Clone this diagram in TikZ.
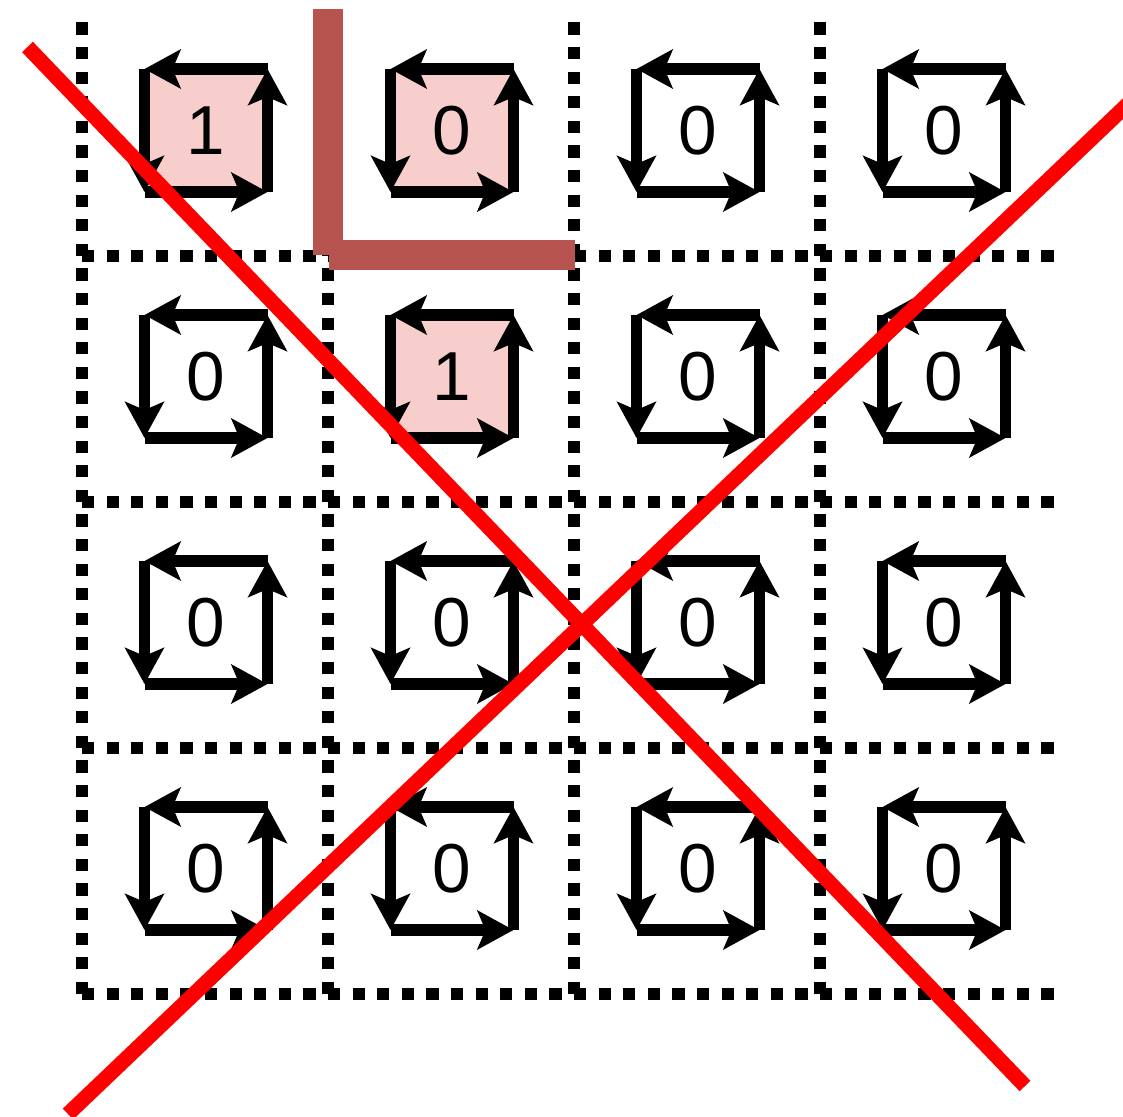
\documentclass[tikz,border=0pt]{standalone}
\usepackage{fontspec}
\setmainfont{Liberation Sans}
\usetikzlibrary{arrows.meta}
\definecolor{pinkfill}{HTML}{F8CECC}
\definecolor{lbrown}{HTML}{B85450}
\begin{document}
\begin{tikzpicture}[x=0.75pt,y=-0.75pt,
  gridline/.style={line width=9.2pt, dash pattern=on 9.2pt off 9.25pt},
  cellbox/.style={minimum size=92.25pt, inner sep=0pt, outer sep=0pt, font=\fontsize{52}{60}\selectfont},
  pinkcell/.style={cellbox, fill=pinkfill},
  cyc/.style={line width=8.5pt, -{Stealth[length=27pt,width=29pt,inset=6pt]}},
  cross/.style={red, line width=11.25pt},
  lmark/.style={lbrown, line width=22.5pt}]
\useasboundingbox (0,0) rectangle (1123,1116);
% dotted grid
\foreach \x in {82,328,574,820} \draw[gridline] (\x,994) -- (\x,21);
\foreach \y in {256,502,748,994} \draw[gridline] (82,\y) -- (1056,\y);
% cells
\node[pinkcell] (c11) at (206,130.5) {1};
\node[pinkcell] (c12) at (452,130.5) {0};
\node[cellbox]  (c13) at (698,130.5) {0};
\node[cellbox]  (c14) at (944,130.5) {0};
\node[cellbox]  (c21) at (206,376.5) {0};
\node[pinkcell] (c22) at (452,376.5) {1};
\node[cellbox]  (c23) at (698,376.5) {0};
\node[cellbox]  (c24) at (944,376.5) {0};
\node[cellbox]  (c31) at (206,622.5) {0};
\node[cellbox]  (c32) at (452,622.5) {0};
\node[cellbox]  (c33) at (698,622.5) {0};
\node[cellbox]  (c34) at (944,622.5) {0};
\node[cellbox]  (c41) at (206,868.5) {0};
\node[cellbox]  (c42) at (452,868.5) {0};
\node[cellbox]  (c43) at (698,868.5) {0};
\node[cellbox]  (c44) at (944,868.5) {0};
\foreach \c in {c11,c12,c13,c14,c21,c22,c23,c24,c31,c32,c33,c34,c41,c42,c43,c44}{
  \draw[cyc] (\c.north east) -- (\c.north west);
  \draw[cyc] (\c.north west) -- (\c.south west);
  \draw[cyc] (\c.south west) -- (\c.south east);
  \draw[cyc] (\c.south east) -- (\c.north east);
}
% L mark
\coordinate (la) at (328,9);
\coordinate (lb) at (328,255);
\coordinate (lc) at (329,255);
\coordinate (ld) at (575,255);
\draw[lmark] (la) -- (lb);
\draw[lmark] (lc) -- (ld);
% red cross
\coordinate (r1a) at (27.5,47);
\coordinate (r1b) at (1025,1086);
\coordinate (r2a) at (68,1114);
\coordinate (r2b) at (1130,102);
\draw[cross] (r1a) -- (r1b);
\draw[cross] (r2a) -- (r2b);
\end{tikzpicture}
\end{document}
